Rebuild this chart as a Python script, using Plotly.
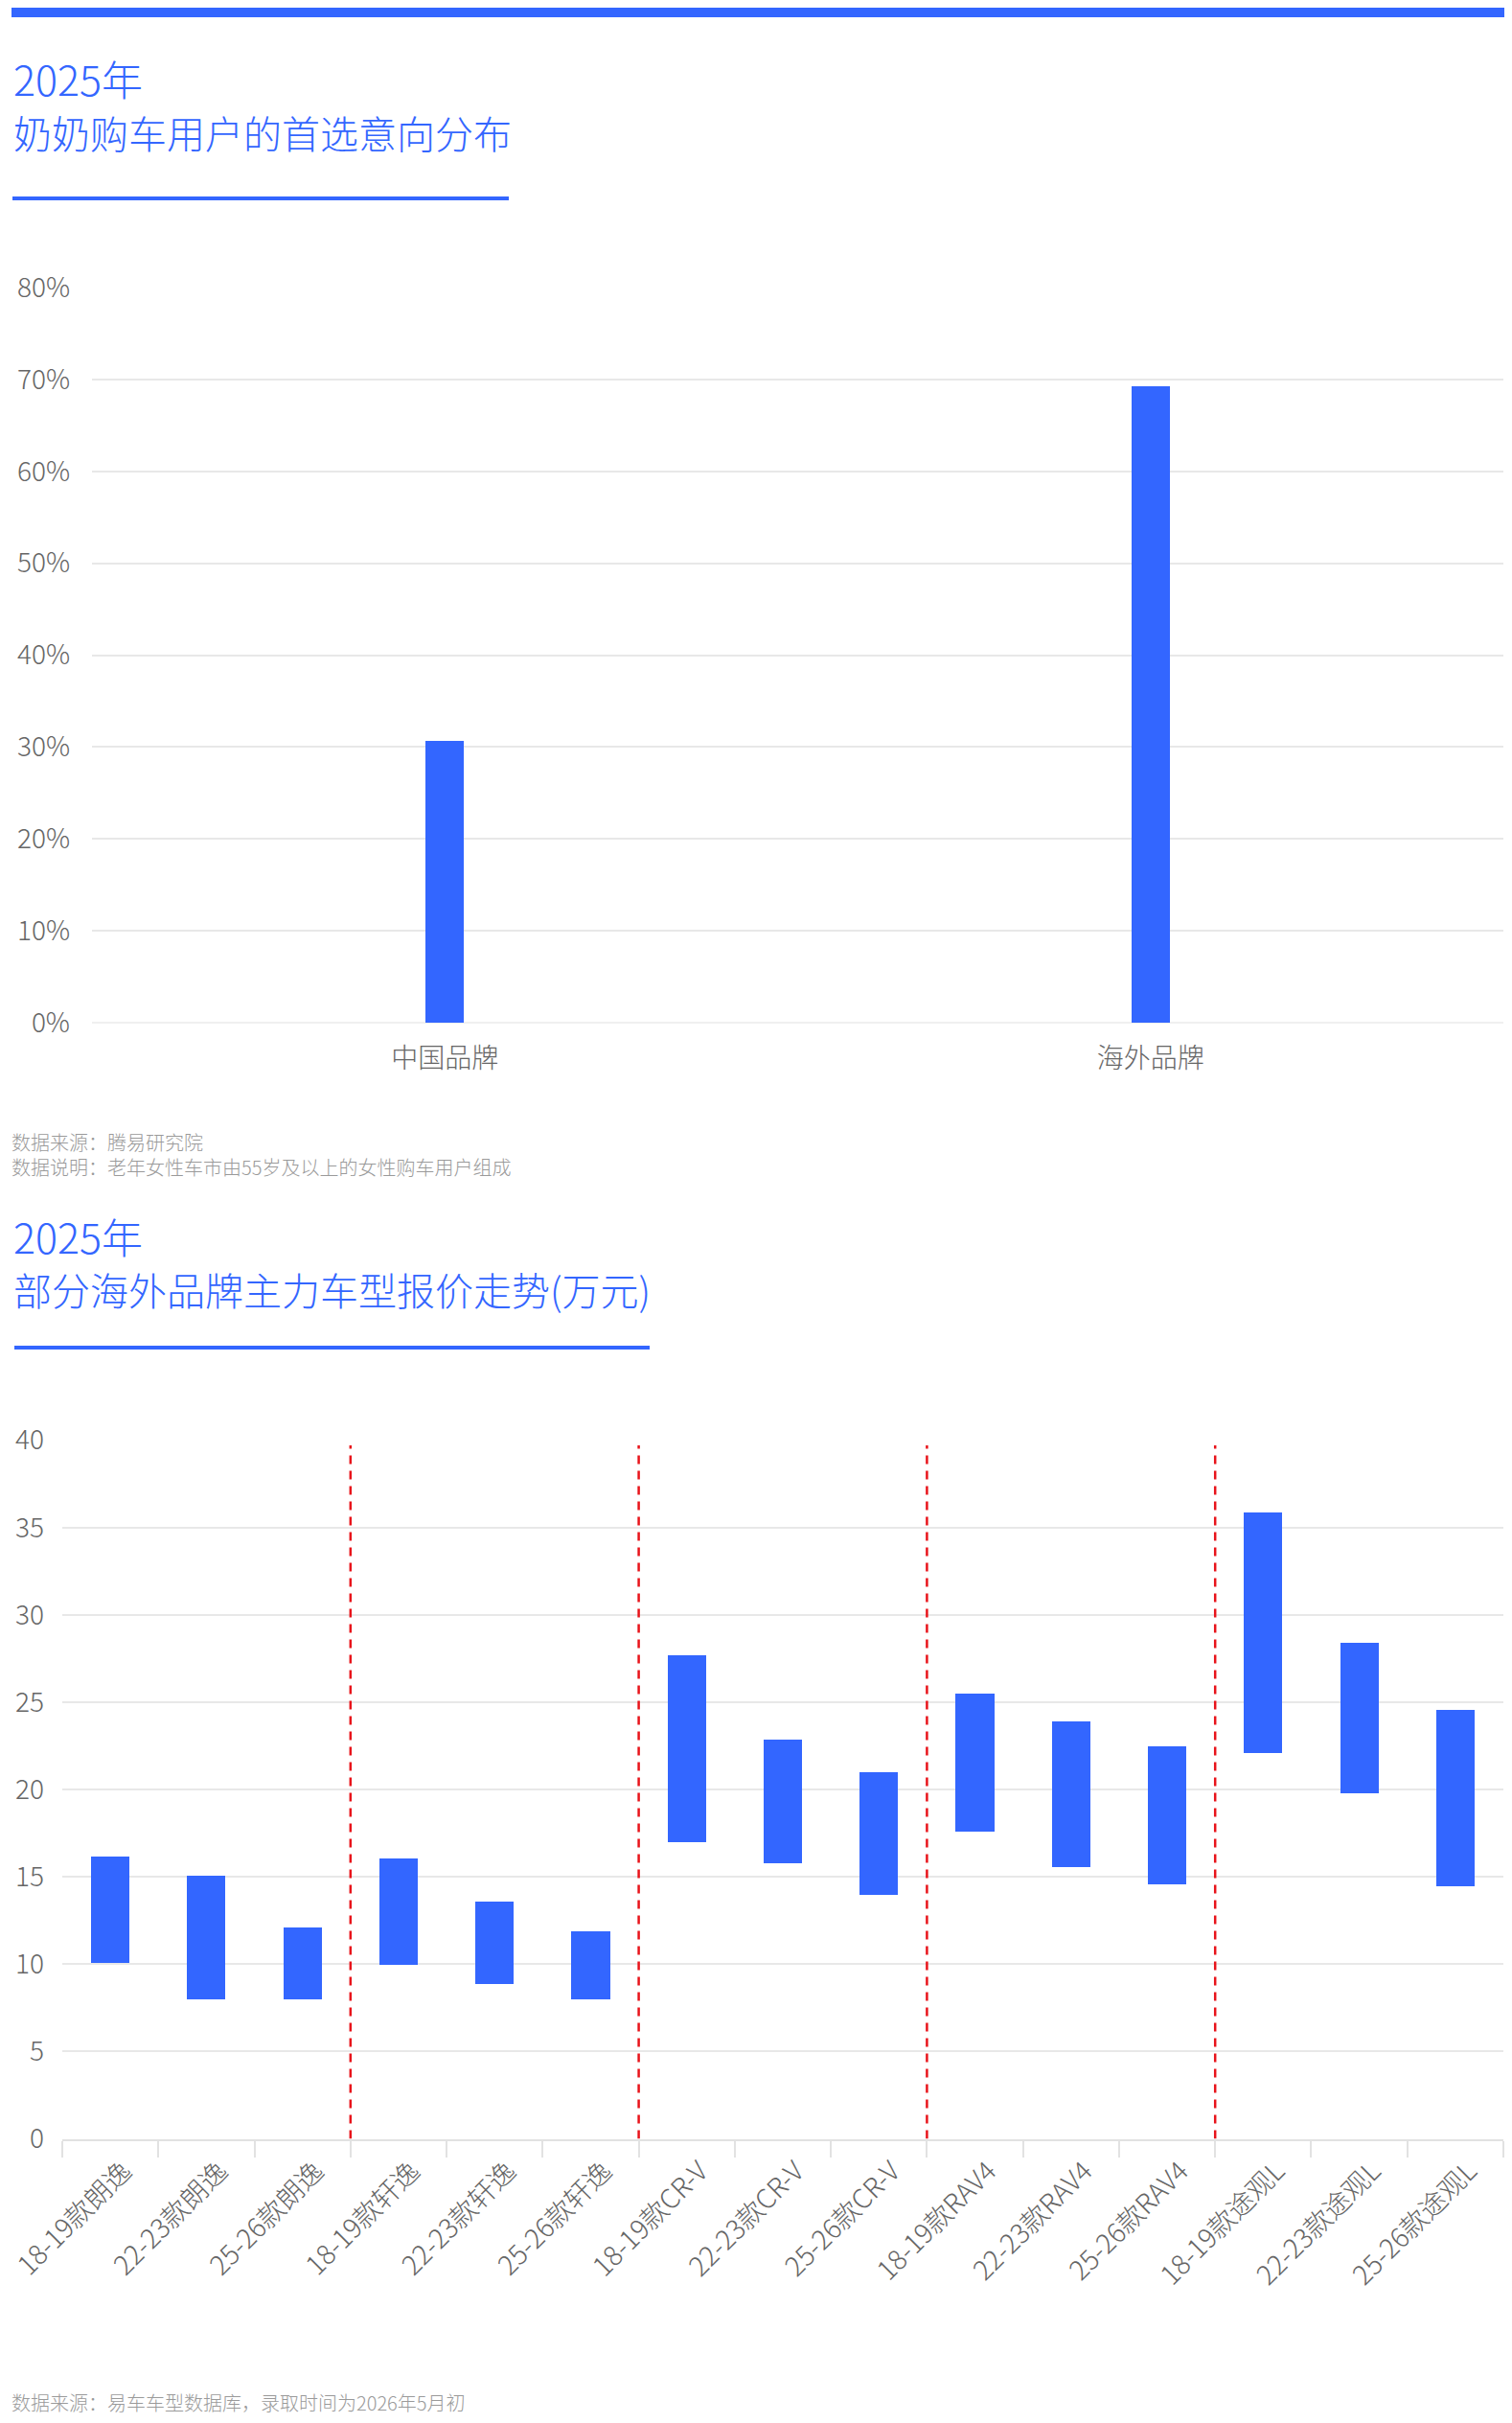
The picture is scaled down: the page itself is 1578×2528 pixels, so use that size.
import plotly.graph_objects as go

# the page body has an 8px margin, so the figure is drawn 8px in from the top-left
OFF = 8
W, H = 1578 - OFF, 2528 - OFF
BLUE = "#3366ff"
FONT = "Noto Sans CJK SC"

# chart 1: first-choice intention of grandma car buyers
brand_cats = ["中国品牌", "海外品牌"]
brand_share = [30.7, 69.3]

# chart 2: price range of main overseas models (10k yuan)
models = ["18-19款朗逸", "22-23款朗逸", "25-26款朗逸",
          "18-19款轩逸", "22-23款轩逸", "25-26款轩逸",
          "18-19款CR-V", "22-23款CR-V", "25-26款CR-V",
          "18-19款RAV4", "22-23款RAV4", "25-26款RAV4",
          "18-19款途观L", "22-23款途观L", "25-26款途观L"]
price_low = [10.1, 8.0, 8.0, 10.0, 8.9, 8.0, 17.0, 15.8, 14.0, 17.6, 15.6, 14.6, 22.1, 19.8, 14.5]
price_high = [16.2, 15.1, 12.1, 16.1, 13.6, 11.9, 27.7, 22.9, 21.0, 25.5, 23.9, 22.5, 35.9, 28.4, 24.6]
group_breaks = [2.5, 5.5, 8.5, 11.5]


def py(p):
    # screen pixel from top -> paper fraction
    return 1 - (p - OFF) / H


def px(p):
    return (p - OFF) / W


fig = go.Figure()

fig.add_trace(go.Bar(
    x=brand_cats, y=brand_share, width=0.054,
    marker=dict(color=BLUE, line_width=0),
    xaxis="x", yaxis="y", hoverinfo="skip",
))

fig.add_trace(go.Bar(
    x=models, y=[h - l for h, l in zip(price_high, price_low)], base=price_low,
    width=0.4, marker=dict(color=BLUE, line_width=0),
    xaxis="x2", yaxis="y2", hoverinfo="skip",
))

tick_font = dict(family=FONT, size=28, color="#666666", weight=300)

fig.update_layout(
    width=W, height=H, margin=dict(l=0, r=0, t=0, b=0, pad=0),
    paper_bgcolor="white", plot_bgcolor="white",
    showlegend=False, bargap=0,
    font=dict(family=FONT),
    xaxis=dict(domain=[px(96), px(1569)], anchor="y", showgrid=False,
               showline=False, ticks="", tickfont=tick_font, automargin=False,
               ticklabelstandoff=18, fixedrange=True),
    yaxis=dict(domain=[py(1067), py(300)], anchor="x", range=[0, 80],
               dtick=10, ticksuffix="%", showgrid=True, gridcolor="#e8e8e8",
               gridwidth=2, zeroline=True, zerolinecolor="#f0f0f0", zerolinewidth=2,
               tickfont=tick_font, ticklabelstandoff=22, automargin=False,
               fixedrange=True),
    xaxis2=dict(domain=[px(65), px(1569)], anchor="y2", showgrid=False,
                showline=True, linecolor="#e2e2e2", linewidth=2,
                ticks="outside", tickson="boundaries", ticklen=17,
                tickcolor="#e2e2e2", tickwidth=2, tickangle=-45,
                ticklabelshift=14, ticklabelstandoff=4,
                tickfont=tick_font, automargin=False, fixedrange=True),
    yaxis2=dict(domain=[py(2231.6), py(1502.6)], anchor="x2", range=[0, 40],
                dtick=5, showgrid=True, gridcolor="#e8e8e8", gridwidth=2,
                zeroline=False, tickfont=tick_font, ticklabelstandoff=18,
                automargin=False, fixedrange=True),
)

shapes = [
    dict(type="rect", xref="paper", yref="paper", x0=px(12), x1=1, y0=py(18), y1=py(8),
         fillcolor=BLUE, line_width=0),
    dict(type="rect", xref="paper", yref="paper", x0=px(13), x1=px(531), y0=py(209), y1=py(205),
         fillcolor=BLUE, line_width=0),
    dict(type="rect", xref="paper", yref="paper", x0=px(15), x1=px(678), y0=py(1408), y1=py(1404),
         fillcolor=BLUE, line_width=0),
]
for b in group_breaks:
    shapes.append(dict(type="line", xref="x2", yref="y2", x0=b, x1=b, y0=0, y1=39.7,
                       line=dict(color="#e8141b", width=2.5, dash="9px,7px")))
fig.update_layout(shapes=shapes)


def note(text, y, size, color, x=14):
    fig.add_annotation(text=text, xref="paper", yref="paper", x=px(x), y=py(y),
                       xanchor="left", yanchor="middle", showarrow=False,
                       font=dict(family=FONT, size=size, color=color, weight=300))


note("2025年", 81, 43, BLUE, x=12)
note("奶奶购车用户的首选意向分布", 138, 40, BLUE, x=12)
note("数据来源：腾易研究院", 1191, 20, "#9a9a9a", x=10)
note("数据说明：老年女性车市由55岁及以上的女性购车用户组成", 1217, 20, "#9a9a9a", x=10)
note("2025年", 1289, 43, BLUE, x=12)
note("部分海外品牌主力车型报价走势(万元)", 1345, 40, BLUE, x=12)
note("数据来源：易车车型数据库，录取时间为2026年5月初", 2506, 20, "#9a9a9a", x=10)

fig.write_html("out.html")
